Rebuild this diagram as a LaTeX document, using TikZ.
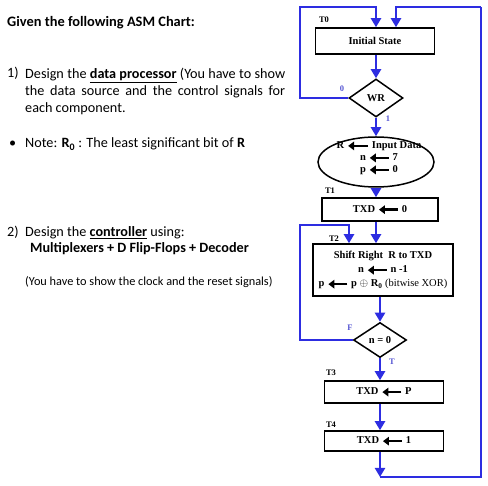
\documentclass[tikz,border=0pt]{standalone}
\usepackage{fontspec}
\setmainfont{Liberation Serif}
\newfontfamily\notefont{Carlito}
\usepackage{xcolor}
\usetikzlibrary{arrows.meta,shapes.geometric,positioning}
\definecolor{asmblue}{RGB}{45,45,225}
\definecolor{lblblue}{RGB}{85,85,210}
\newcommand{\getsarr}[1][19]{\tikz[baseline=-0.5ex]\draw[line width=2.4pt,-{Triangle[length=6pt,width=8.5pt]}] (#1pt,0pt) -- (0pt,0pt);}

\begin{document}
\begin{tikzpicture}[x=1pt,y=-1pt]
		\tikzstyle{every node}=[font=\fontsize{10.5}{12}\selectfont\bfseries]
		\tikzstyle{statebox}=[draw, line width=1.5pt, rectangle, inner sep=0pt]
		\tikzstyle{decision}=[draw, line width=1.5pt, diamond, inner sep=0pt]
		\tikzstyle{flow}=[line width=2.4pt, asmblue, -{Triangle[length=9pt,width=10pt]}]
		\tikzstyle{wire}=[line width=2.4pt, asmblue]
		\tikzstyle{tlabel}=[font=\fontsize{8.5}{9}\selectfont\bfseries]
		\tikzstyle{branch}=[text=lblblue, font=\fontsize{8.5}{9}\selectfont\bfseries]
		\tikzstyle{note}=[font=\notefont\fontsize{14.2}{17}\selectfont, anchor=base west, inner sep=0pt]
		\useasboundingbox (0,0) rectangle (488,486);
		% text on the left
		\node [note, font=\notefont\fontsize{14.4}{17}\selectfont\bfseries] (title) at (7,27) {Given the following ASM Chart:};
		\node [note] (num1) at (7,78) {1)};
		\node [note, anchor=north west, text width=260pt, align=justify] (task1) at (25,67.5) {Design the \underline{\textbf{data processor}} (You have to show\linebreak the data source and the control signals for\linebreak each component.};
		\node [note] (bullet) at (9,148) {\textbullet};
		\node [note] (hint) at (25,148) {Note: \textbf{R\textsubscript{0}} : The least significant bit of \textbf{R}};
		\node [note] (num2) at (7,237) {2)};
		\node [note] (task2) at (25,237) {Design the \underline{\textbf{controller}} using:};
		\node [note, font=\notefont\fontsize{14.2}{17}\selectfont\bfseries] (parts) at (30,253) {Multiplexers + D Flip-Flops + Decoder};
		\node [note, font=\notefont\fontsize{12.3}{13}\selectfont] (remark) at (25,286) {(You have to show the clock and the reset signals)};
		% ASM chart
		\node [statebox, minimum width=119pt, minimum height=26pt] (init) at (375,41) {Initial State};
		\node [tlabel] (t0) at (324,20) {T0};
		\node [decision, minimum width=54pt, minimum height=38pt] (wr) at (376,98) {WR};
		\node [draw, line width=1.5pt, ellipse, minimum width=116pt, minimum height=50pt, inner sep=0pt] (load) at (376,162) {};
		\node [align=center, inner sep=0pt] (loadtxt) at (379,158) {R \getsarr[20]\ Input Data\\ n \getsarr\ 7\\ p \getsarr\ 0};
		\node [tlabel] (t1) at (330,191) {T1};
		\node [statebox, minimum width=116pt, minimum height=23pt] (clr) at (380,209.5) {TXD \getsarr\ 0};
		\node [tlabel] (t2) at (334,239) {T2};
		\node [statebox, minimum width=140pt, minimum height=52pt, align=center] (shift) at (383,270) {Shift Right\ \ R to TXD\\[2pt] n \getsarr\ n -1\\[2pt] p \getsarr\ p $\oplus$ R\textsubscript{0} {\mdseries (bitwise XOR)}};
		\node [decision, minimum width=53pt, minimum height=35pt] (nz) at (380,340) {n = 0};
		\node [tlabel] (t3) at (331,373) {T3};
		\node [statebox, minimum width=119pt, minimum height=22pt] (out) at (384,392) {TXD \getsarr\ P};
		\node [tlabel] (t4) at (331,425) {T4};
		\node [statebox, minimum width=119pt, minimum height=20pt] (stop) at (384,441) {TXD \getsarr\ 1};
		\node [branch] (b0) at (342,89) {0};
		\node [branch] (b1) at (388,119) {1};
		\node [branch] (bf) at (350,328) {F};
		\node [branch] (bt) at (392,362) {T};
		\coordinate (loopl) at (300,7);
		\coordinate (loopr) at (481,7);
		\coordinate (loopf) at (300,225);
		\coordinate (ret) at (380,477);
		% connectors
		\draw [flow] (wr.west) -| (loopl) -| (init.north -| wr.north);
		\draw [flow] (init.south -| wr.north) -- (wr.north);
		\draw [flow] (wr.south) -- (load.north);
		\draw [flow] (load.south) -- (load.south |- clr.north);
		\draw [flow] (load.south |- clr.south) -- (load.south |- shift.north);
		\draw [flow] (nz.west) -| (loopf) -| ([xshift=-34pt]shift.north);
		\draw [flow] (nz.north |- shift.south) -- (nz.north);
		\draw [flow] (nz.south) -- (nz.south |- out.north);
		\draw [flow] (nz.south |- out.south) -- (nz.south |- stop.north);
		\draw [flow] (nz.south |- stop.south) -- (ret);
		\draw [wire] (ret) -| (loopr);
		\draw [flow] (loopr) -| ([xshift=21pt]init.north);
	\end{tikzpicture}
\end{document}
